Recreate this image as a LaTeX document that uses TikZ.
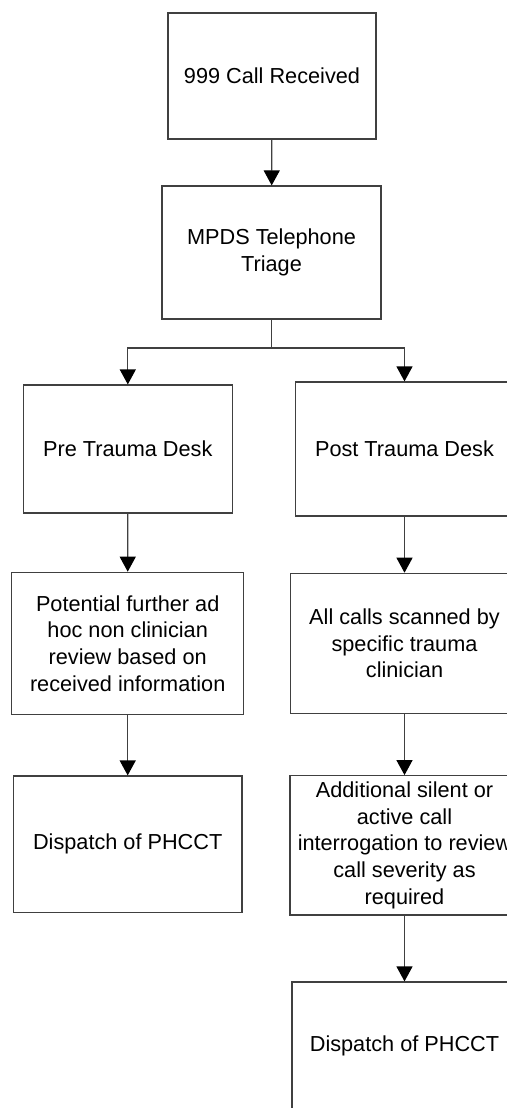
\documentclass[tikz,border=0pt]{standalone}
\usepackage{fontspec}
\setmainfont{Liberation Sans}
\usetikzlibrary{arrows.meta}

\tikzset{
  box/.style={draw=black!75, line width=0.6pt, align=center, inner sep=0pt,
              font=\fontsize{10.85}{13.35}\selectfont},
  link/.style={draw=black!75, line width=0.6pt},
  arr/.style={link, -{Triangle[length=7.5pt,width=8pt,black]}}
}

\begin{document}
\begin{tikzpicture}[x=0.5pt, y=-0.5pt]
  \useasboundingbox (0,0) rectangle (507,1108);
  \fill[white] (0,0) rectangle (507,1108);
  \clip (0,0) rectangle (507,1108);

  % middle
  \node[box, minimum width=104pt, minimum height=63pt] (call) at (272,76) {999 Call Received};
  \node[box, minimum width=109.5pt, minimum height=66.5pt] (triage) at (271.5,252.5) {MPDS Telephone\\Triage};

  % left branch
  \node[box, minimum width=104.5pt, minimum height=64pt] (pre) at (127.8,449) {Pre Trauma Desk};
  \node[box, minimum width=116pt, minimum height=71pt] (further) at (127.7,643.3)
       {Potential further ad\\hoc non clinician\\review based on\\received information};
  \node[box, minimum width=114.3pt, minimum height=68.3pt] (dispL) at (127.7,844.3) {Dispatch of PHCCT};

  % right branch
  \node[box, minimum width=109pt, minimum height=67pt] (post) at (404.5,449) {Post Trauma Desk};
  \node[box, minimum width=114pt, minimum height=70pt] (scanned) at (404.5,643.3)
       {All calls scanned by\\specific trauma\\clinician};
  \node[box, minimum width=114.5pt, minimum height=69.6pt] (review) at (404.5,845.3)
       {Additional silent or\\active call\\interrogation to review\\call severity as\\required};
  \node[box, minimum width=112.5pt, minimum height=64pt] (dispR) at (404.5,1046) {Dispatch of PHCCT};

  \coordinate (fork) at (271.5,348);

  \draw[arr] (call) -- (triage);
  \draw[link] (triage.south) -- (fork);
  \draw[arr] (fork) -| (pre.north);
  \draw[arr] (fork) -| (post.north);
  \draw[arr] (pre) -- (further);
  \draw[arr] (further) -- (dispL);
  \draw[arr] (post) -- (scanned);
  \draw[arr] (scanned) -- (review);
  \draw[arr] (review) -- (dispR);
\end{tikzpicture}
\end{document}
